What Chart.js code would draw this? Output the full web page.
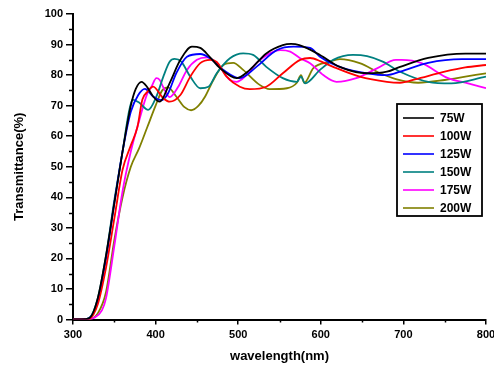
<!DOCTYPE html>
<html>
<head>
<meta charset="utf-8">
<script src="https://cdn.jsdelivr.net/npm/chart.js@4.4.0/dist/chart.umd.min.js"></script>
<style>
html,body{margin:0;padding:0;background:#fff;}
#wrap{position:relative;width:494px;height:367px;}
</style>
</head>
<body>
<div id="wrap"><canvas id="c" width="494" height="367"></canvas></div>
<script>
// ---- data ----
const seriesLabels = ['75W', '100W', '125W', '150W', '175W', '200W'];
const seriesColors = ['#000000', '#ff0000', '#0000ff', '#008080', '#ff00ff', '#808000'];

const wl75 = [300,310,320,330,340,350,360,370,376,383,390,397,405,417,430,444,454,466,478,498,514,534,554,564,574,599,623,656,680,696,730,775,800];
const t75  = [0,0,0.5,7,21,38,55,70,75.5,77.8,76,73,71.3,77.4,85,89.3,88.9,85.8,82.3,79,81.7,87.1,89.8,90.2,89.8,86.6,82.7,80.6,81.1,82.7,85.6,87,87];

const wl100 = [300,312,320,330,340,350,360,370,378,384,390,397,409,417,430,442,454,466,474,486,502,514,534,554,575,587,600,615,647,680,696,714,750,775,800];
const t100  = [0,0,0.3,5,17,33,49,57,63,72,74.5,76.2,72.5,71.3,73.5,79.5,83.9,85,84.3,79.5,76.2,75.4,76.2,80.6,85,85.6,84.5,82.7,79.5,77.8,77.5,78.6,81.1,82.5,83.3];

const wl125 = [300,312,320,330,340,350,360,370,379,387,397,407,415,425,438,454,466,482,502,522,547,567,587,599,627,656,680,696,730,771,800];
const t125  = [0,0,0.5,6,20,38,55,68,73.5,75.5,73,71.8,74,80.6,86,86.9,85.5,81.7,79,82.7,88.2,89.3,88.9,86,82.3,80.6,80,81.1,84,85.2,85.2];

const wl150 = [300,312,320,330,340,350,360,367,372,380,391,401,410,417,423,431,442,454,464,474,490,506,518,534,554,571,576,581,599,615,639,656,675,696,730,758,800];
const t150  = [0,0,0.6,7,21,39,55,67,72,71,68.6,73,80,84.4,85.3,84.4,79.5,75.7,76.2,80.6,85.5,87.1,86.6,82.7,79,77.8,79.5,77.3,81.7,85,86.6,86.2,84.4,81.1,77.8,77.3,79.5];

const wl175 = [300,315,325,335,340,350,360,370,380,390,395,401,405,409,417,427,438,450,462,474,490,498,510,522,538,551,563,575,587,603,619,643,668,691,698,722,754,775,800];
const t175  = [0,0,0.5,3,7,24,42,55,65,74,76.2,79,78.4,76.2,72.8,76,81.7,85,85.8,83.9,78.4,77.8,80,83.9,87.1,88.2,87.7,85.5,83.9,80,77.8,79,82.2,85,85,83.9,79,77.5,75.7];

const wl200 = [300,318,330,340,350,360,370,380,390,400,408,415,425,435,443,452,460,470,482,494,506,526,538,559,571,576,580,591,611,623,647,672,692,718,750,775,800];
const t200  = [0,0,2,9,26,40,50,56,63,70,75,76,73,69.5,68.5,70,73,78.4,83.3,84,81.7,76.8,75.4,75.7,77.5,80,77.5,82.3,84.4,85.2,83.9,80.6,78.6,77.5,78.4,79.5,80.6];

const xTicks = [300, 400, 500, 600, 700, 800];
const yTicks = [0, 10, 20, 30, 40, 50, 60, 70, 80, 90, 100];

const seriesX = [wl75, wl100, wl125, wl150, wl175, wl200];
const seriesY = [t75, t100, t125, t150, t175, t200];

const datasets = seriesLabels.map((lab, i) => ({
  label: lab,
  data: seriesX[i].map((x, j) => ({x: x, y: seriesY[i][j]})),
  borderColor: seriesColors[i],
  backgroundColor: seriesColors[i],
  borderWidth: 1.8,
  pointRadius: 0,
  fill: false,
  cubicInterpolationMode: 'monotone'
}));

const minorTicks = {
  id: 'minorTicks',
  afterDraw(chart) {
    const ctx = chart.ctx, xs = chart.scales.x, ys = chart.scales.y;
    ctx.save();
    ctx.strokeStyle = '#000';
    ctx.lineWidth = 1.5;
    for (let v = 5; v < 100; v += 10) {
      const p = Math.round(ys.getPixelForValue(v)) + 0.5;
      ctx.beginPath(); ctx.moveTo(ys.right - 4, p); ctx.lineTo(ys.right, p); ctx.stroke();
    }
    for (let v = 350; v < 800; v += 100) {
      const p = Math.round(xs.getPixelForValue(v)) + 0.5;
      ctx.beginPath(); ctx.moveTo(p, xs.top); ctx.lineTo(p, xs.top + 3); ctx.stroke();
    }
    ctx.restore();
  }
};

const boxLegend = {
  id: 'boxLegend',
  afterDraw(chart) {
    const ctx = chart.ctx;
    const bx = 397, by = 104, bw = 85, bh = 112;
    ctx.save();
    ctx.fillStyle = '#fff';
    ctx.fillRect(bx, by, bw, bh);
    ctx.strokeStyle = '#000';
    ctx.lineWidth = 1.8;
    ctx.strokeRect(bx, by, bw, bh);
    ctx.font = 'bold 12px "Liberation Sans", Arial, sans-serif';
    ctx.textBaseline = 'middle';
    chart.data.datasets.forEach((ds, i) => {
      const y = 118 + i * 18;
      ctx.strokeStyle = ds.borderColor;
      ctx.lineWidth = 1.6;
      ctx.beginPath(); ctx.moveTo(403, y); ctx.lineTo(434, y); ctx.stroke();
      ctx.fillStyle = '#000';
      ctx.fillText(ds.label, 440, y + 0.5);
    });
    ctx.restore();
  }
};

const tickFont = {family: '"Liberation Sans", Arial, sans-serif', size: 11, weight: 'bold'};
const titleFont = {family: '"Liberation Sans", Arial, sans-serif', size: 13, weight: 'bold'};

new Chart(document.getElementById('c'), {
  type: 'line',
  data: {datasets: datasets},
  options: {
    responsive: false,
    animation: false,
    layout: {padding: {top: 14, right: 8, left: 0, bottom: 0}},
    plugins: {legend: {display: false}, tooltip: {enabled: false}},
    scales: {
      x: {
        type: 'linear', min: 300, max: 800,
        afterBuildTicks: s => { s.ticks = xTicks.map(v => ({value: v})); },
        afterFit: s => { s.height = 47.5; s.paddingLeft = 0; s.paddingRight = 0; },
        ticks: {color: '#000', font: tickFont, padding: 4, maxRotation: 0, autoSkip: false},
        grid: {drawOnChartArea: false, drawTicks: true, tickLength: 5, color: '#000', lineWidth: 1.5},
        border: {display: true, color: '#000', width: 2},
        title: {display: true, text: 'wavelength(nm)', color: '#000', font: titleFont, padding: {top: 0, bottom: 3}}
      },
      y: {
        type: 'linear', min: 0, max: 100,
        afterBuildTicks: s => { s.ticks = yTicks.map(v => ({value: v})); },
        afterFit: s => { s.width = 73; s.paddingTop = 0; s.paddingBottom = 0; },
        ticks: {color: '#000', font: tickFont, padding: 3, autoSkip: false},
        grid: {drawOnChartArea: false, drawTicks: true, tickLength: 7, color: '#000', lineWidth: 1.5},
        border: {display: true, color: '#000', width: 2},
        title: {display: true, text: 'Transmittance(%)', color: '#000', font: titleFont, padding: {top: 12, bottom: 0}}
      }
    }
  },
  plugins: [minorTicks, boxLegend]
});
</script>
</body>
</html>
